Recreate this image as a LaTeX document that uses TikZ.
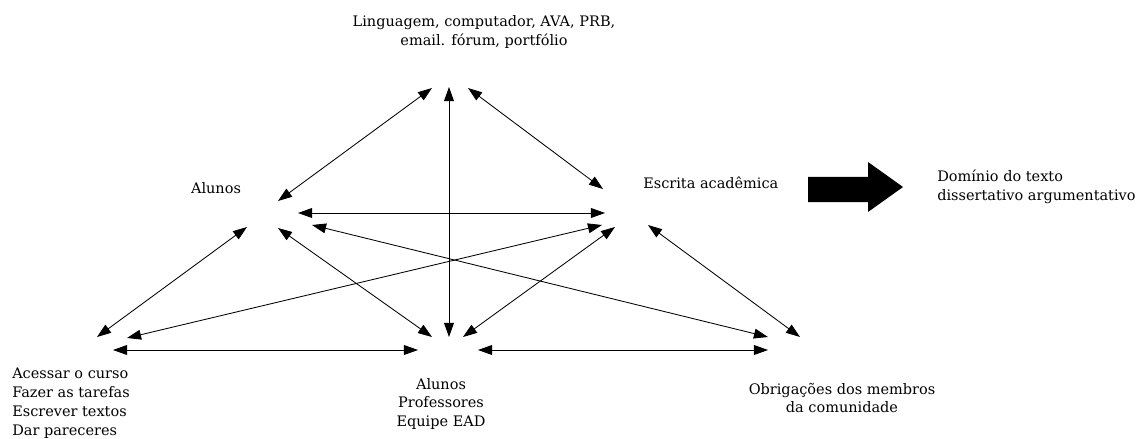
\documentclass[tikz,border=0pt]{standalone}
\usepackage{fontspec}
\setmainfont{DejaVu Serif}
\usetikzlibrary{arrows.meta}

\tikzset{
  lbl/.style={inner sep=0pt, font=\fontsize{10.3}{13.4}\selectfont},
  dbl/.style={line width=0.6pt, {Triangle[length=10pt,width=7pt]}-{Triangle[length=10pt,width=7pt]}}
}

\begin{document}
\begin{tikzpicture}[x=0.025cm, y=-0.025cm]
      \useasboundingbox (0,0) rectangle (1136,439);
      % texts
      \node[lbl, align=center] (tool) at (484,32) {Linguagem, computador, AVA, PRB,\\email. fórum, portfólio};
      \node[lbl] (subj) at (216,188) {Alunos};
      \node[lbl, anchor=west] (obj) at (643,183) {Escrita acadêmica};
      \node[lbl, anchor=west, align=left] (outc) at (937,187) {Domínio do texto\\dissertativo argumentativo};
      \node[lbl, anchor=west, align=left] (rules) at (12,403) {Acessar o curso\\Fazer as tarefas\\Escrever textos\\Dar pareceres};
      \node[lbl, align=center] (comm) at (441,404) {Alunos\\Professores\\Equipe EAD};
      \node[lbl, align=center] (div) at (842,398) {Obrigações dos membros\\da comunidade};
      % ends of the arrows
      \coordinate (t1) at (432,88);
      \coordinate (t2) at (449,87);
      \coordinate (t3) at (468,88);
      \coordinate (s1) at (278,201);
      \coordinate (s2) at (298,213);
      \coordinate (s3) at (312,225);
      \coordinate (s4) at (247,227);
      \coordinate (s5) at (278,228);
      \coordinate (o1) at (603,189);
      \coordinate (o2) at (605,213);
      \coordinate (o3) at (602,225);
      \coordinate (o4) at (615,227);
      \coordinate (o5) at (648,225);
      \coordinate (r1) at (97,337);
      \coordinate (r2) at (127,338);
      \coordinate (r3) at (113,350);
      \coordinate (c1) at (449,337);
      \coordinate (c2) at (432,337);
      \coordinate (c3) at (463,337);
      \coordinate (c4) at (418,350);
      \coordinate (c5) at (478,350);
      \coordinate (d1) at (768,337);
      \coordinate (d2) at (800,337);
      \coordinate (d3) at (768,350);
      % arrows
      \draw[dbl] (t1) -- (s1);
      \draw[dbl] (t2) -- (c1);
      \draw[dbl] (t3) -- (o1);
      \draw[dbl] (s2) -- (o2);
      \draw[dbl] (s3) -- (d1);
      \draw[dbl] (r2) -- (o3);
      \draw[dbl] (s4) -- (r1);
      \draw[dbl] (s5) -- (c2);
      \draw[dbl] (o4) -- (c3);
      \draw[dbl] (o5) -- (d2);
      \draw[dbl] (r3) -- (c4);
      \draw[dbl] (c5) -- (d3);
      \fill (808,177) -- (868,177) -- (868,162) -- (903,187) -- (868,212) -- (868,202) -- (808,202) -- cycle;
\end{tikzpicture}
\end{document}
